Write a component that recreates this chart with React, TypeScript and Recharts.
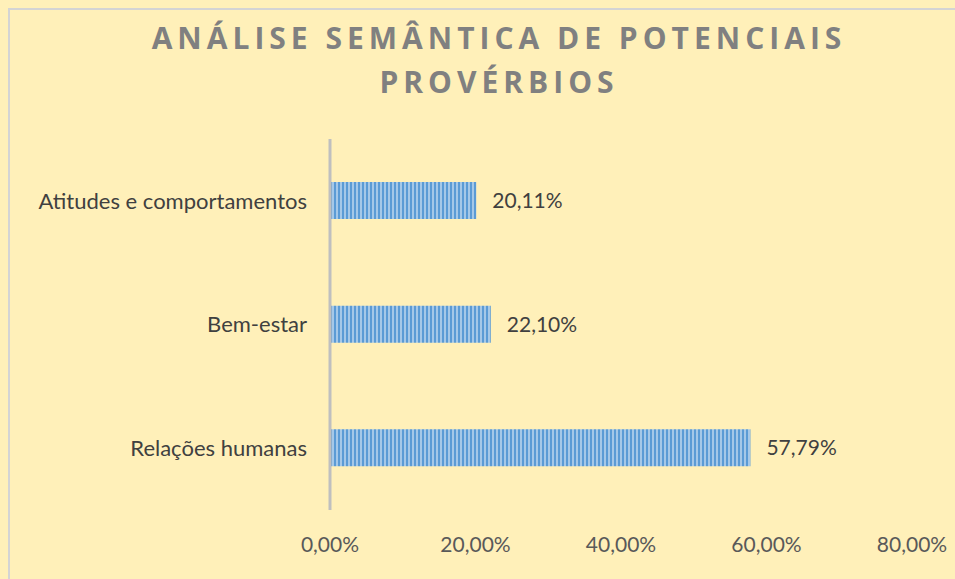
import React from "react";
import { BarChart, Bar, XAxis, YAxis, LabelList } from "recharts";

const categories = ["Atitudes e comportamentos", "Bem-estar", "Relações humanas"];
const shares = [0.2011, 0.221, 0.5779];
const xTicks = [0, 0.2, 0.4, 0.6, 0.8];

const data = categories.map((name, i) => ({ name, value: shares[i] }));

const pct = (v: number) => (v * 100).toFixed(2).replace(".", ",") + "%";

const FONT = "Lato, 'Open Sans', sans-serif";

export default function App() {
  return (
    <div style={{ position: "fixed", left: 0, top: 0, width: 955, height: 579, background: "#FFF0B9", overflow: "hidden" }}>
      <div
        style={{
          position: "absolute",
          left: 8,
          top: 8,
          width: 960,
          height: 580,
          borderLeft: "2px solid #D4D4D4",
          borderTop: "2px solid #D4D4D4",
        }}
      >
        <div
          style={{
            position: "absolute",
            left: 0,
            top: 6,
            width: 978,
            textAlign: "center",
            fontFamily: "'Open Sans', sans-serif",
            fontWeight: 700,
            fontSize: 30,
            letterSpacing: 5,
            lineHeight: "44px",
            color: "#808080",
          }}
        >
          ANÁLISE SEMÂNTICA DE POTENCIAIS
          <br />
          PROVÉRBIOS
        </div>
        <BarChart
          width={945}
          height={570}
          layout="vertical"
          data={data}
          margin={{ top: 129, right: 43, bottom: 0, left: 0 }}
          style={{ position: "absolute", left: 0, top: 0 }}
        >
          <defs>
            <pattern id="stripes" width="4" height="4" patternUnits="userSpaceOnUse">
              <rect x="0" y="0" width="4" height="4" fill="#A5C8E8" />
              <rect x="0" y="0" width="2" height="4" fill="#5B9BD5" />
            </pattern>
          </defs>
          <XAxis
            type="number"
            domain={[0, 0.8]}
            ticks={xTicks}
            tickFormatter={pct}
            axisLine={false}
            tickLine={false}
            height={70}
            tickMargin={21}
            tick={{ fontSize: 21, fill: "#595959", fontFamily: FONT }}
          />
          <YAxis
            type="category"
            dataKey="name"
            width={320}
            axisLine={{ stroke: "#BFBFBF", strokeWidth: 3 }}
            tickLine={false}
            tickMargin={17}
            tick={{ fontSize: 22, fill: "#404040", fontFamily: FONT }}
          />
          <Bar dataKey="value" fill="url(#stripes)" barSize={37} isAnimationActive={false}>
            <LabelList
              dataKey="value"
              position="right"
              offset={16}
              formatter={(v: any) => pct(Number(v))}
              style={{ fontSize: 21, fill: "#404040", fontFamily: FONT }}
            />
          </Bar>
        </BarChart>
      </div>
    </div>
  );
}
